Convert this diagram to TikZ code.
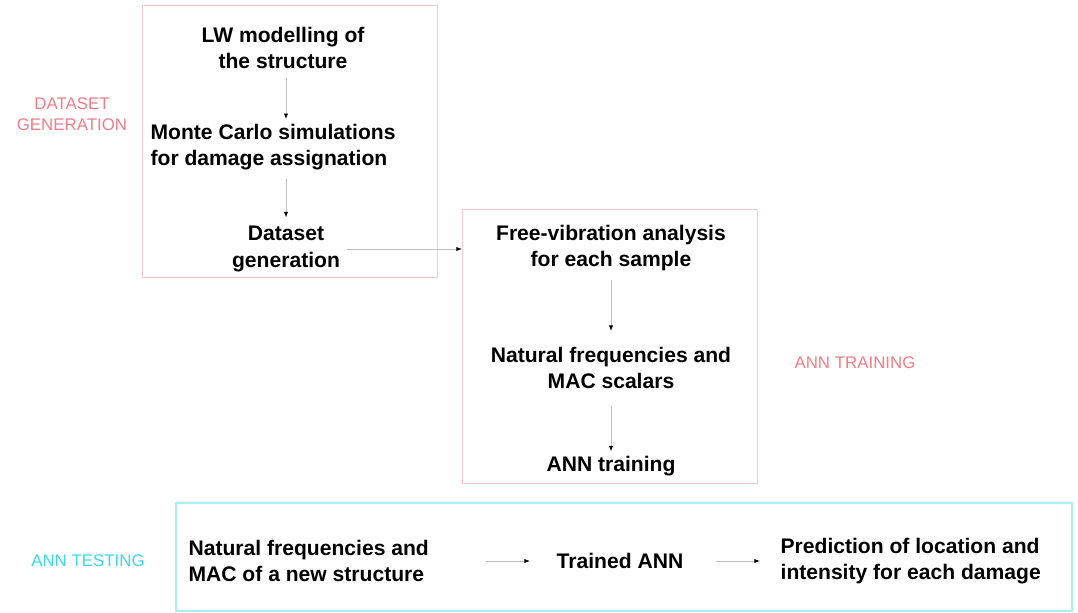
\documentclass[tikz,border=0pt]{standalone}
\usepackage{fontspec}
\setmainfont{Liberation Sans}
\usetikzlibrary{arrows.meta}
\definecolor{rosa}{RGB}{240,125,135}
\definecolor{rosarand}{RGB}{243,200,206}
\definecolor{tuerkis}{RGB}{55,220,232}
\definecolor{tuerkisrand}{RGB}{165,238,242}
\definecolor{pfeilgrau}{RGB}{190,190,190}
\begin{document}
\begin{tikzpicture}[line width=0.6pt,
		schritt/.style={font=\fontsize{15}{19}\selectfont\bfseries, inner sep=3pt},
		phase/.style={font=\fontsize{12}{15}\selectfont, align=center},
		pfeil/.style={draw=pfeilgrau, line width=0.6pt, -{Latex[length=4pt,width=3pt,black]}},
		rahmen/.style={draw=rosarand, line width=0.8pt, inner sep=0pt, anchor=north west}]
			%%Rand
			\useasboundingbox (0,0) rectangle (26.95,-15.325);
		
			%%Rahmen
			\node[rahmen, minimum width=7.375cm, minimum height=6.8cm] (generierung) at (3.55,-0.125) {};
			\node[rahmen, minimum width=7.375cm, minimum height=6.85cm] (training) at (11.55,-5.225) {};
			\node[rahmen, draw=tuerkisrand, line width=1.4pt, minimum width=22.4cm, minimum height=2.7cm] (test) at (4.375,-12.55) {};
		
			%%Phasen
			\node[phase, text=rosa] (lblgen) at (1.8,-2.85) {DATASET\\GENERATION};
			\node[phase, text=rosa] (lbltrain) at (21.375,-9.075) {ANN TRAINING};
			\node[phase, text=tuerkis] (lbltest) at (2.2,-14.025) {ANN TESTING};
		
			%%Schritte
			\node[schritt, align=center] (lw) at (7.075,-1.2) {LW modelling of\\the structure};
			\node[schritt, align=left, anchor=west] (mc) at (3.65,-3.675) {Monte Carlo simulations\\for damage assignation};
			\node[schritt, align=center] (ds) at (7.15,-6.225) {Dataset\\generation};
			\node[schritt, align=center] (fv) at (15.275,-6.2) {Free-vibration analysis\\for each sample};
			\node[schritt, align=center] (nf) at (15.275,-9.2) {Natural frequencies and\\MAC scalars};
			\node[schritt, align=center] (ann) at (15.275,-11.65) {ANN training};
			\node[schritt, align=left, anchor=west] (neu) at (4.6,-14.025) {Natural frequencies and\\MAC of a new structure};
			\node[schritt] (trainiert) at (15.5,-14.025) {Trained ANN};
			\node[schritt, align=left, anchor=west] (vorhersage) at (19.4,-14.025) {Prediction of location and\\intensity for each damage};
		
			%%Pfeile
			\draw[pfeil, shorten <=0.1cm] (lw.south -| ds.north) -- (ds.north |- mc.north);
			\draw[pfeil, shorten <=0.1cm, shorten >=0.1cm] (ds.north |- mc.south) -- (ds.north);
			\draw[pfeil] ([xshift=0.05cm]ds.east) -- (ds.east -| training.west);
			\draw[pfeil, shorten <=0.1cm, shorten >=0.28cm] (fv.south) -- (nf.north);
			\draw[pfeil, shorten <=0.3cm] (nf.south) -- (ann.north);
			\draw[pfeil, shorten <=1.3cm, shorten >=0.55cm] (neu.east) -- (trainiert.west);
			\draw[pfeil, shorten <=0.7cm, shorten >=0.4cm] (trainiert.east) -- (vorhersage.west);
		\end{tikzpicture}
\end{document}
